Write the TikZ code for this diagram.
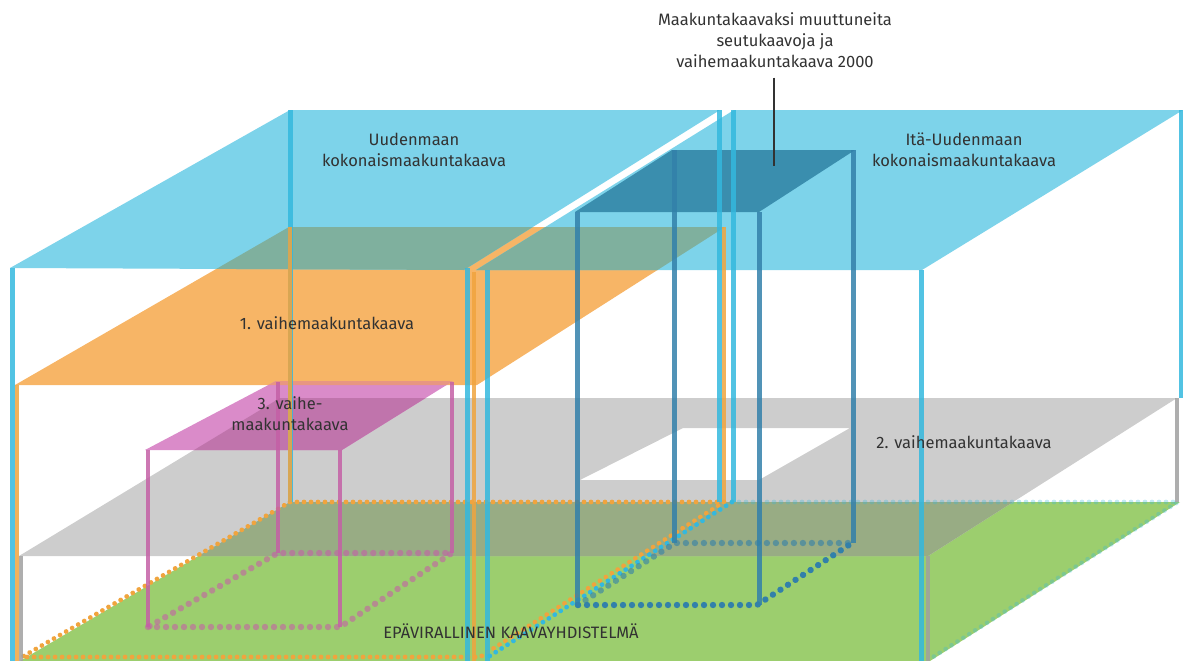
\documentclass[tikz,border=0pt]{standalone}
\usepackage{fontspec}
\setmainfont{Fira Sans}
\usetikzlibrary{decorations.markings}

\definecolor{roofblue}{RGB}{125,211,234}
\definecolor{postblue}{RGB}{52,184,222}
\definecolor{planorange}{RGB}{247,181,102}
\definecolor{postorange}{RGB}{240,164,62}
\definecolor{mixteal}{RGB}{127,176,158}
\definecolor{roofdark}{RGB}{58,142,174}
\definecolor{postdark}{RGB}{50,128,170}
\definecolor{plangray}{RGB}{205,205,205}
\definecolor{postgray}{RGB}{160,160,160}
\definecolor{grass}{RGB}{156,206,110}
\definecolor{mixgrass}{RGB}{152,172,132}
\definecolor{roofpink}{RGB}{218,139,201}
\definecolor{mixpink}{RGB}{192,116,172}
\definecolor{mixpeach}{RGB}{232,150,130}
\definecolor{postpink}{RGB}{196,96,166}
\definecolor{labelgray}{RGB}{50,50,50}

\tikzset{
  post/.style={line width=5pt, draw opacity=0.85},
  thinpost/.style={line width=4pt, draw opacity=0.85},
  bigdots/.style={decoration={markings,
      mark=between positions 0 and 1 step 9pt with {\fill circle (3.2pt);}},
    postaction={decorate}},
  smalldots/.style={decoration={markings,
      mark=between positions 0 and 1 step 7pt with {\fill circle (2.4pt);}},
    postaction={decorate}},
  planlabel/.style={text=labelgray, font=\fontsize{16.5}{21}\selectfont, align=center, inner sep=0pt}
}

% the planes, corners in pixels
\def\groundarea{(290,502) -- (1180,502) -- (930,661) -- (20,661) -- cycle}
\def\grayarea{(280,398) -- (1177,398) -- (928,556) -- (19,556) -- cycle}
\def\grayhole{(683,428) -- (850,428) -- (759,480) -- (580,480) -- cycle}
\def\orangearea{(289,227) -- (725,227) -- (477,385) -- (15,385) -- cycle}
\def\leftroof{(290,110) -- (720,110) -- (464,270) -- (10,268) -- cycle}
\def\rightroof{(734,110) -- (1183,110) -- (922,270) -- (476,270) -- cycle}
\def\darkroof{(672,150) -- (855,150) -- (759,212) -- (575,212) -- cycle}
\def\pinkroof{(276,381) -- (453,381) -- (342,450) -- (145,450) -- cycle}

\begin{document}
\begin{tikzpicture}[x=1pt,y=-1pt]
\useasboundingbox (0,0) rectangle (1183,661);

% ground and 2. vaihe
\fill[grass] \groundarea;
\fill[plangray, even odd rule] \grayarea \grayhole;
\begin{scope}
  \clip \groundarea;
  \fill[mixgrass, even odd rule] \grayarea \grayhole;
\end{scope}

% 1. vaihe and the two roofs
\fill[planorange] \orangearea;
\fill[roofblue] \leftroof;
\fill[roofblue] \rightroof;
\begin{scope}
  \clip \orangearea;
  \fill[mixteal] \leftroof;
  \fill[mixteal] \rightroof;
\end{scope}
\fill[roofdark] \darkroof;

% 3. vaihe roof
\fill[roofpink] \pinkroof;
\begin{scope}
  \clip \pinkroof;
  \fill[mixpink] \grayarea;
  \fill[mixpeach] \orangearea;
\end{scope}

% dotted bottoms
\path[smalldots, postorange] (290,502) -- (724,502) -- (480,657) -- (22,657) -- cycle;
\path[smalldots, postblue] (732,502) -- (485,659);
\path[smalldots, postblue, opacity=0.3] (732,502) -- (1178,502) -- (930,659);
\path[bigdots, postdark] (578,605) -- (757,605) -- (852,543);
\path[bigdots, postdark, opacity=0.6] (578,605) -- (675,543) -- (852,543);
\path[bigdots, postpink, opacity=0.6] (148,627) -- (340,627) -- (452,553) -- (278,553) -- cycle;

% posts
\foreach \x/\a/\b in {12/268/661, 467/268/661, 290/110/502, 719/110/502,
                      487/270/661, 921/270/661, 733/110/502, 1181/110/398}
  \draw[post, postblue] (\x,\a) -- (\x,\b);
\foreach \x/\a/\b in {17/385/661, 474/272/661, 290/227/502, 724/227/502}
  \draw[thinpost, postorange] (\x,\a) -- (\x,\b);
\foreach \x/\a/\b in {21/556/661, 928/556/661, 1177/398/502}
  \draw[thinpost, postgray] (\x,\a) -- (\x,\b);
\foreach \x/\a/\b in {577/212/605, 759/212/605, 674/150/543, 853/150/543}
  \draw[post, postdark] (\x,\a) -- (\x,\b);
\foreach \x/\a/\b in {148/450/627, 340/450/627, 278/382/553, 452/382/553}
  \draw[thinpost, postpink] (\x,\a) -- (\x,\b);

% labels
\node[planlabel] (lblmaak) at (775,40) {Maakuntakaavaksi muuttuneita\\seutukaavoja ja\\vaihemaakuntakaava 2000};
\node[planlabel] (lbluusi) at (414,150) {Uudenmaan\\kokonaismaakuntakaava};
\node[planlabel] (lblita) at (964,150) {Itä-Uudenmaan\\kokonaismaakuntakaava};
\node[planlabel] (lblfirst) at (327,323) {1. vaihemaakuntakaava};
\node[planlabel] (lblthird) at (290,414) {3. vaihe-\\maakuntakaava};
\node[planlabel] (lblsecond) at (964,442) {2. vaihemaakuntakaava};
\node[planlabel] (lblground) at (511,631) {EPÄVIRALLINEN KAAVAYHDISTELMÄ};

\coordinate (leadend) at (774,166);
\draw[line width=2pt, labelgray, shorten <=10pt] (lblmaak.south -| leadend) -- (leadend);
\end{tikzpicture}
\end{document}
